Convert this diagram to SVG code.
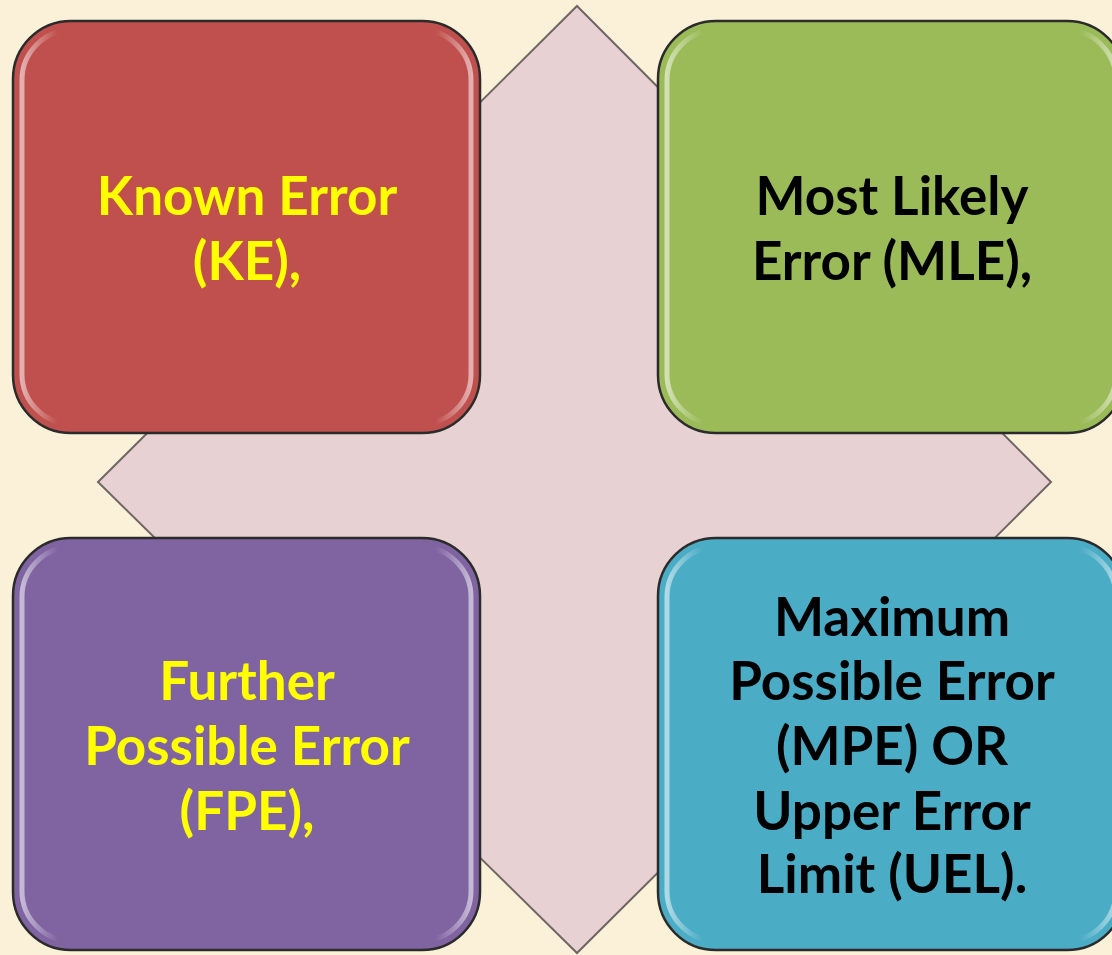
<svg xmlns="http://www.w3.org/2000/svg" width="1112" height="955" viewBox="0 0 1112 955">
  <style>
    .box { stroke: #2b2b2b; stroke-width: 2.5; }
    .gloss { fill: none; stroke-width: 5; opacity: 0.55; }
    .lbl { font-family: Lato, "Open Sans", "Liberation Sans", sans-serif; font-weight: bold; font-size: 53px; text-anchor: middle; }
    .yel { fill: #FFFF00; }
    .blk { fill: #000000; }
  </style>
  <defs>
    <linearGradient id="glossL" x1="0" y1="0" x2="1" y2="0">
      <stop offset="0" stop-color="#ffffff" stop-opacity="1"/>
      <stop offset="0.08" stop-color="#ffffff" stop-opacity="0"/>
      <stop offset="0.92" stop-color="#ffffff" stop-opacity="0"/>
      <stop offset="1" stop-color="#ffffff" stop-opacity="1"/>
    </linearGradient>
  </defs>
  <rect x="0" y="0" width="1112" height="955" fill="#FAF1D8"/>
  <g id="diamond">
    <polygon points="577,6 1051,482 577,953 98,482" fill="#E7D1D3" stroke="#6f6666" stroke-width="2"/>
  </g>
  <g id="node-ke">
    <rect class="box" x="13" y="21" width="467" height="412" rx="58" ry="58" fill="#C0504D"/>
    <rect class="gloss" x="22" y="30" width="449" height="394" rx="50" ry="50" stroke="url(#glossL)"/>
    <text class="lbl yel" x="247" y="215">Known Error</text>
    <text class="lbl yel" x="247" y="280">(KE),</text>
  </g>
  <g id="node-mle">
    <rect class="box" x="658" y="21" width="467" height="412" rx="58" ry="58" fill="#9BBB59"/>
    <rect class="gloss" x="667" y="30" width="449" height="394" rx="50" ry="50" stroke="url(#glossL)"/>
    <text class="lbl blk" x="892" y="215">Most Likely</text>
    <text class="lbl blk" x="892" y="280">Error (MLE),</text>
  </g>
  <g id="node-fpe">
    <rect class="box" x="13" y="538" width="467" height="412" rx="58" ry="58" fill="#8064A2"/>
    <rect class="gloss" x="22" y="547" width="449" height="394" rx="50" ry="50" stroke="url(#glossL)"/>
    <text class="lbl yel" x="247" y="700">Further</text>
    <text class="lbl yel" x="247" y="765">Possible Error</text>
    <text class="lbl yel" x="247" y="830">(FPE),</text>
  </g>
  <g id="node-mpe">
    <rect class="box" x="658" y="538" width="467" height="412" rx="58" ry="58" fill="#4BACC6"/>
    <rect class="gloss" x="667" y="547" width="449" height="394" rx="50" ry="50" stroke="url(#glossL)"/>
    <text class="lbl blk" x="892" y="636">Maximum</text>
    <text class="lbl blk" x="892" y="700">Possible Error</text>
    <text class="lbl blk" x="892" y="765">(MPE) OR</text>
    <text class="lbl blk" x="892" y="830">Upper Error</text>
    <text class="lbl blk" x="892" y="893">Limit (UEL).</text>
  </g>
  <g id="connectors"></g>
</svg>
